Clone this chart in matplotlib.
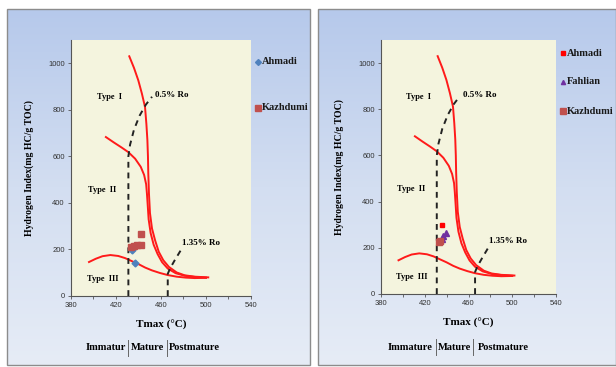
import numpy as np
import matplotlib
matplotlib.use("Agg")
import matplotlib.pyplot as plt
from matplotlib.patches import Rectangle

# kerogen type curves (Tmax, HI)
type1_x = [431.8, 436, 439.8, 443, 445.8, 447, 447.9, 448.4, 448.7, 449.3, 450.2, 452, 454.7, 458, 462, 467, 474, 481, 490, 502]
type1_y = [1030, 980, 927, 870, 812, 740, 670, 600, 527, 440, 356, 290, 240, 190, 154, 125, 101, 89, 83, 80]
type2_x = [411, 418, 425, 431, 437, 442, 445, 446.8, 447.5, 448.2, 449, 450.8, 453.5, 457, 461, 466, 473, 481, 490, 500]
type2_y = [683, 660, 638, 618, 590, 555, 520, 480, 440, 390, 330, 270, 220, 180, 145, 118, 98, 87, 82, 79]
type3_x = [396, 402, 408, 415, 422, 428, 434, 440, 446, 452, 459, 466, 474, 482, 490, 500]
type3_y = [146, 160, 171, 176, 172, 163, 150, 137, 122, 110, 99, 90, 83, 79, 77, 78]

ro05_x = [431, 431, 432.5, 436, 441, 446.5, 452]
ro05_y = [0, 600, 650, 715, 775, 822, 856]
ro135_x = [466, 466, 468, 472, 478]
ro135_y = [0, 95, 118, 152, 200]

type_labels = ["Type  I", "Type  II", "Type  III"]
type_pos = [(403, 854), (395, 455), (394, 74)]

# samples
left_ahmadi_x = [434, 437]
left_ahmadi_y = [197, 142]
left_kazh_x = [433, 436, 439, 442, 442.5]
left_kazh_y = [212, 215, 218, 220, 266]

right_ahmadi_x = [435.5]
right_ahmadi_y = [300]
right_fahlian_x = [436, 437, 439.4]
right_fahlian_y = [240, 250, 266]
right_kazh_x = [433, 434]
right_kazh_y = [225, 230]

xticks = list(range(380, 541, 20))
yticks = list(range(0, 1001, 200))

SERIF = "Liberation Serif"
SANS = "Liberation Sans"
RED = "#ff1a1a"

W, H = 616, 367
fig = plt.figure(figsize=(W / 100, H / 100), dpi=100)

bg = fig.add_axes([0, 0, 1, 1], zorder=-5)
bg.set_xlim(0, W)
bg.set_ylim(H, 0)
bg.axis("off")

grad = np.linspace(0, 1, 256).reshape(-1, 1)
cmap = matplotlib.colors.LinearSegmentedColormap.from_list("bg", ["#b6c9eb", "#d3def1", "#e6ecf6"])
for (x0, x1) in [(7, 310), (318, 616)]:
    bg.imshow(grad, cmap=cmap, extent=[x0, x1, 365, 9], aspect="auto", zorder=0)
    bg.add_patch(Rectangle((x0, 9), x1 - x0, 356, fill=False, ec="#8c8c8c", lw=1.0, zorder=5))


def panel(rect, mature_words, sep_x, word_x, label_y, txt_y):
    ax = fig.add_axes(rect)
    ax.set_facecolor("#f4f4de")
    ax.plot(type1_x, type1_y, color=RED, lw=1.4, zorder=3)
    ax.plot(type2_x, type2_y, color=RED, lw=1.4, zorder=3)
    ax.plot(type3_x, type3_y, color=RED, lw=1.4, zorder=3)
    ax.plot(ro05_x, ro05_y, color="#222222", lw=1.4, ls=(0, (3, 2.5)), zorder=4)
    ax.plot(ro135_x, ro135_y, color="#222222", lw=1.4, ls=(0, (3, 2.5)), zorder=4)
    ax.text(455, 862, "0.5% Ro", fontsize=6.5, family=SERIF, weight="bold", va="center")
    ax.text(479, 228, "1.35% Ro", fontsize=6.5, family=SERIF, weight="bold", va="center")
    for lab, (tx, ty) in zip(type_labels, type_pos):
        ax.text(tx, ty, lab, fontsize=6, family=SERIF, weight="bold", va="center")
    ax.set_xlim(380, 540)
    ax.set_ylim(0, 1100)
    ax.set_xticks(xticks)
    ax.set_xticklabels([str(t) if (t - 380) % 40 == 0 else "" for t in xticks])
    ax.set_yticks(yticks)
    ax.tick_params(labelsize=5.5, length=2.5, width=0.6, color="#555555", labelcolor="#333333", pad=2)
    for lab in ax.get_xticklabels() + ax.get_yticklabels():
        lab.set_family(SANS)
    for s in ["top", "right"]:
        ax.spines[s].set_visible(False)
    for s in ["left", "bottom"]:
        ax.spines[s].set_color("#555555")
        ax.spines[s].set_linewidth(0.8)
    ax.set_xlabel("Tmax (°C)", fontsize=8, family=SERIF, weight="bold", labelpad=8)
    ax.set_ylabel("Hydrogen Index(mg HC/g TOC)", fontsize=7, family=SERIF, weight="bold", labelpad=10)
    for w, wx in zip(mature_words, word_x):
        bg.text(wx, txt_y, w, fontsize=7.5, family=SERIF, weight="bold", va="center", ha="left")
    for sx in sep_x:
        bg.plot([sx, sx], [txt_y - 8, txt_y + 8], color="#666666", lw=0.7)
    return ax


axl = panel([71 / W, 1 - 296 / H, 180 / W, 256 / H], ["Immatur", "Mature", "Postmature"],
            [128, 167], [86, 131, 169], 327, 348)
axl.plot(left_ahmadi_x, left_ahmadi_y, ls="none", marker="D", ms=3.5, color="#4f81bd", zorder=5)
axl.plot(left_kazh_x, left_kazh_y, ls="none", marker="s", ms=4.5, color="#c0504d", zorder=5)

axr = panel([381 / W, 1 - 294 / H, 175 / W, 254 / H], ["Immature", "Mature", "Postmature"],
            [436, 473], [388, 438, 478], 325, 347)
axr.plot(right_ahmadi_x, right_ahmadi_y, ls="none", marker="s", ms=3.5, color="#ff0000", zorder=5)
axr.plot(right_fahlian_x, right_fahlian_y, ls="none", marker="^", ms=4, color="#7030a0", zorder=5)
axr.plot(right_kazh_x, right_kazh_y, ls="none", marker="s", ms=4.5, color="#c0504d", zorder=6)

# legends drawn in pixel space
legend_items = [
    (258, 62, "D", 3, "#4f81bd", "Ahmadi"),
    (258, 108, "s", 4, "#c0504d", "Kazhdumi"),
    (563, 53, "s", 3, "#ff0000", "Ahmadi"),
    (563, 82, "^", 3, "#7030a0", "Fahlian"),
    (563, 111, "s", 4, "#c0504d", "Kazhdumi"),
]
for mx, my, mk, ms, col, lab in legend_items:
    bg.plot([mx], [my], marker=mk, ms=ms, color=col, ls="none", zorder=3)
    bg.text(mx + 4, my, lab, fontsize=7.5, family=SERIF, weight="bold", va="center", color="#1a1a1a", zorder=3)

fig.savefig("out.png", dpi=100)
